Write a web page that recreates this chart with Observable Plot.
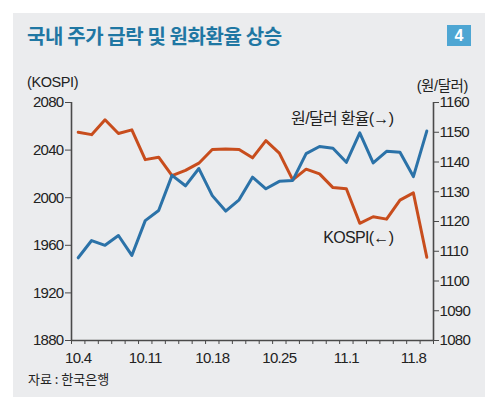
<!DOCTYPE html>
<html>
<head>
<meta charset="utf-8">
<script src="https://cdn.jsdelivr.net/npm/d3@7"></script>
<script src="https://cdn.jsdelivr.net/npm/@observablehq/plot@0.6"></script>
<style>
  html, body { margin: 0; padding: 0; background: #ffffff; }
  body { width: 500px; height: 411px; position: relative; overflow: hidden;
         font-family: "Liberation Sans", "Noto Sans CJK KR", sans-serif; }
  #panel { position: absolute; left: 13px; top: 13px; width: 472px; height: 384px; background: #ebecee; }
  #title { position: absolute; left: 14px; top: 8px; font-family: "Noto Sans CJK KR", sans-serif;
           font-weight: 700; font-size: 20px; color: #1f77a3; white-space: nowrap; letter-spacing: -0.4px; }
  #badge { position: absolute; left: 434px; top: 12px; width: 24px; height: 21px; background: #4ea6d3;
           color: #fff; font-weight: 700; font-size: 16px; text-align: center; line-height: 21px;
           font-family: "Liberation Sans", sans-serif; }
  .ytitle { position: absolute; top: 61px; font-size: 14.5px; color: #222; white-space: nowrap;
            font-family: "Liberation Sans", "Noto Sans CJK KR", sans-serif; letter-spacing: -0.4px; }
  #chart { position: absolute; left: 0; top: 50px; }
  #caption { position: absolute; left: 15px; top: 356px; font-size: 13px; color: #222;
             font-family: "Noto Sans CJK KR", sans-serif; white-space: nowrap; }
</style>
</head>
<body>
<div id="panel">
  <div id="title">국내 주가 급락 및 원화환율 상승</div>
  <div id="badge">4</div>
  <div class="ytitle" style="left:14px;">(KOSPI)</div>
  <div class="ytitle" style="right:17px;">(원/달러)</div>
  <div id="chart"></div>
  <div id="caption">자료 : 한국은행</div>
</div>
<script>
// Trading days (2016.10.4 – 11.9)
const dates = ["10.4","10.5","10.6","10.7","10.10","10.11","10.12","10.13","10.14",
  "10.17","10.18","10.19","10.20","10.21","10.24","10.25","10.26","10.27","10.28",
  "10.31","11.1","11.2","11.3","11.4","11.7","11.8","11.9"];
// KOSPI (left axis)
const kospi = [2055, 2053, 2065.5, 2054, 2057, 2032, 2034, 2018.5, 2023,
  2029, 2040.5, 2041, 2040.5, 2033.5, 2048, 2037.5, 2015, 2024, 2020,
  2008.5, 2007.5, 1978.5, 1984, 1982, 1998, 2004, 1950];
// Won/Dollar exchange rate (right axis)
const rate = [1107.8, 1113.6, 1112, 1115.3, 1108.6, 1120.3, 1123.7, 1135.5, 1132,
  1137.8, 1128.7, 1123.5, 1127.3, 1134.9, 1131, 1133.5, 1133.8, 1142.8, 1145.2,
  1144.6, 1139.9, 1149.8, 1139.7, 1143.6, 1143.3, 1135.1, 1150.4];
const xLabelDates = ["10.4","10.11","10.18","10.25","11.1","11.8"];
const kospiTicks = [1880, 1920, 1960, 2000, 2040, 2080];
const rateTicks = [1080, 1090, 1100, 1110, 1120, 1130, 1140, 1150, 1160];
const seriesLabels = [
  {text: "원/달러 환율(→)", date: "11.7", value: 2066.5},
  {text: "KOSPI(←)", date: "11.7", value: 1966.5}
];

const kMin = 1880, kMax = 2080, rMin = 1080, rMax = 1160;
const toK = r => kMin + (r - rMin) * (kMax - kMin) / (rMax - rMin);
const fromK = k => rMin + (k - kMin) * (rMax - rMin) / (kMax - kMin);
const idx = d => dates.indexOf(d) + 0.5;

const kData = dates.map((d, i) => ({x: i + 0.5, y: kospi[i]}));
const rData = dates.map((d, i) => ({x: i + 0.5, y: toK(rate[i])}));

const red = "#c84d1d", blue = "#2b72a8", axisCol = "#4a4a4a";

const chart = Plot.plot({
  width: 472,
  height: 310,
  marginLeft: 58,
  marginRight: 52,
  marginTop: 39,
  marginBottom: 33,
  style: {background: "transparent", fontFamily: "'Liberation Sans', 'Noto Sans CJK KR', sans-serif",
          fontSize: "15px", color: "#222", letterSpacing: "-0.7px"},
  x: {type: "linear", domain: [0, dates.length], axis: null},
  y: {domain: [kMin, kMax], axis: null},
  marks: [
    Plot.axisY({anchor: "left", ticks: kospiTicks, tickSize: 6, tickPadding: 2, label: null,
                tickFormat: d => String(d), stroke: axisCol}),
    Plot.axisY({anchor: "right", ticks: rateTicks.map(toK), tickSize: 5, tickPadding: 1, label: null,
                tickFormat: d => String(Math.round(fromK(d))), stroke: axisCol}),
    Plot.axisX({anchor: "bottom", ticks: d3.range(dates.length + 1), tickSize: 4, label: null,
                tickFormat: () => "", stroke: axisCol}),
    Plot.axisX({anchor: "bottom", ticks: xLabelDates.map(idx), tickSize: 0, tickPadding: 12, label: null,
                tickFormat: d => dates[Math.round(d - 0.5)]}),
    Plot.ruleX([0, dates.length], {y1: kMin, y2: kMax, stroke: axisCol, strokeWidth: 1.6}),
    Plot.ruleY([kMin], {stroke: axisCol, strokeWidth: 1.6}),
    Plot.line(kData, {x: "x", y: "y", stroke: red, strokeWidth: 3}),
    Plot.line(rData, {x: "x", y: "y", stroke: blue, strokeWidth: 3}),
    Plot.text(seriesLabels, {x: d => dates.indexOf(d.date), y: "value", text: "text", textAnchor: "end",
                             fill: "#222", fontSize: 16, letterSpacing: "0px"})
  ]
});
document.getElementById("chart").appendChild(chart);
</script>
</body>
</html>
